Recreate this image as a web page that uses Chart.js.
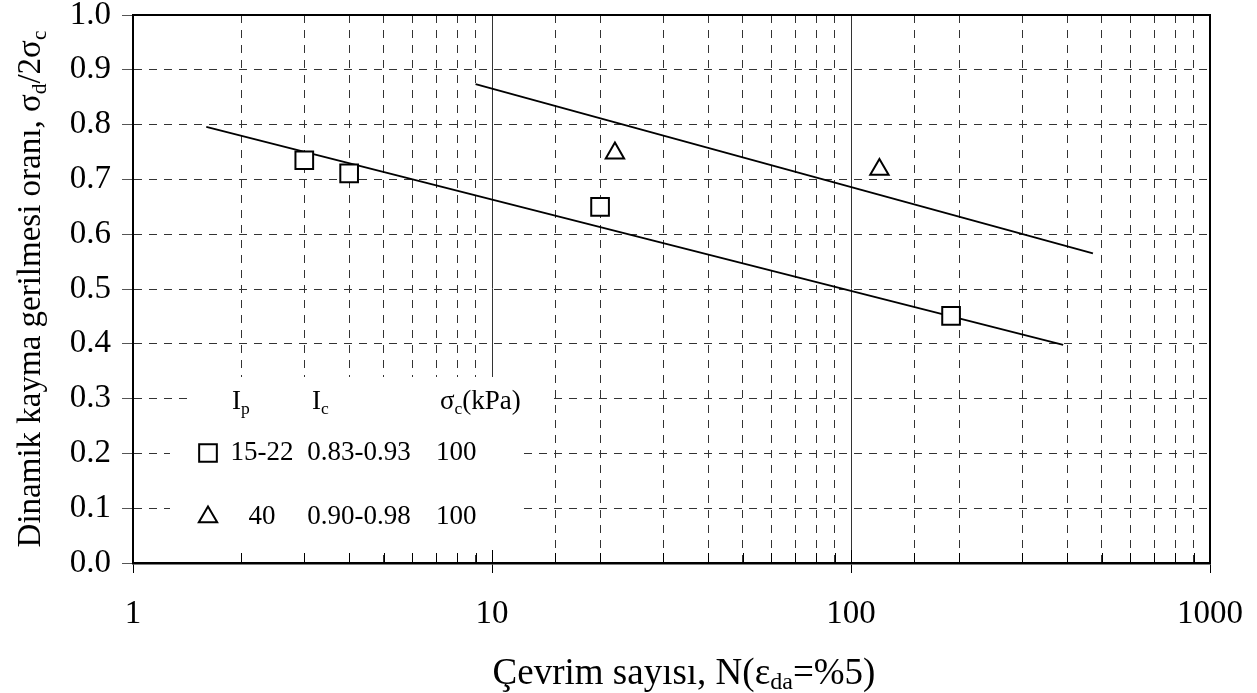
<!DOCTYPE html>
<html>
<head>
<meta charset="utf-8">
<script src="https://cdn.jsdelivr.net/npm/chart.js@4/dist/chart.umd.min.js"></script>
<style>
  html, body { margin: 0; padding: 0; background: #fff; }
  #chart { display: block; }
</style>
</head>
<body>
<canvas id="chart" width="1257" height="693"></canvas>
<script>
// Data
const squareN = [3, 4, 20, 190];
const squareRatio = [0.735, 0.711, 0.65, 0.451];

const triangleN = [22, 120];
const triangleRatio = [0.748, 0.718];

// fitted trend lines (end points)
const lowerFitN = [1.6, 390];
const lowerFitRatio = [0.796, 0.398];
const upperFitN = [9, 472];
const upperFitRatio = [0.874, 0.565];

const xTickLabels = [1, 10, 100, 1000];

// legend table
const legendIp = ["15-22", "40"];
const legendIc = ["0.83-0.93", "0.90-0.98"];
const legendSigma = ["100", "100"];

const SERIF = '"Liberation Serif", "Times New Roman", serif';

function toPoints(xs, ys) {
  return xs.map((x, i) => ({ x: x, y: ys[i] }));
}

// draw text with subscripts; parts = [[text, isSub], ...]
function drawRich(ctx, parts, x, y, size, align, subDrop) {
  const subSize = size * 0.65;
  const drop = subDrop === undefined ? 0.18 : subDrop;
  const widths = parts.map(([t, sub]) => {
    ctx.font = `${sub ? subSize : size}px ${SERIF}`;
    return ctx.measureText(t).width;
  });
  const total = widths.reduce((a, b) => a + b, 0);
  let cx = x;
  if (align === "center") cx = x - total / 2;
  ctx.textAlign = "left";
  ctx.textBaseline = "alphabetic";
  parts.forEach(([t, sub], i) => {
    ctx.font = `${sub ? subSize : size}px ${SERIF}`;
    ctx.fillText(t, cx, sub ? y + size * drop : y);
    cx += widths[i];
  });
}

const isMajor = (v) => xTickLabels.includes(v);

const decorPlugin = {
  id: "decor",
  beforeDatasetsDraw(chart) {
    const ctx = chart.ctx;
    const area = chart.chartArea;
    const xs = chart.scales.x;

    ctx.save();
    // legend background boxes
    ctx.fillStyle = "#fff";
    ctx.fillRect(188, 377, 359, 48);
    ctx.fillRect(170, 425, 353, 128);

    // inside tick marks on x axis
    ctx.strokeStyle = "#000";
    ctx.lineWidth = 1;
    xs.ticks.forEach((t) => {
      const px = Math.round(xs.getPixelForValue(t.value)) + 0.5;
      ctx.beginPath();
      ctx.moveTo(px, area.bottom);
      ctx.lineTo(px, area.bottom - (isMajor(t.value) ? 13 : 10));
      ctx.stroke();
    });

    // legend content
    ctx.fillStyle = "#000";
    drawRich(ctx, [["I"], ["p", true]], 232, 409, 27);
    drawRich(ctx, [["I"], ["c", true]], 312, 409, 27);
    drawRich(ctx, [["σ"], ["c", true], ["(kPa)"]], 440, 409, 27);

    const rowBase = [460, 524];
    const markers = ["rect", "triangle"];
    const radii = [12.5, 10.6];
    const markerY = [453, 517];
    rowBase.forEach((by, i) => {
      ctx.strokeStyle = "#000";
      ctx.fillStyle = "#fff";
      ctx.lineWidth = 2;
      Chart.helpers.drawPoint(ctx, { pointStyle: markers[i], radius: radii[i], rotation: 0, borderWidth: 2 }, 208, markerY[i]);
      ctx.fillStyle = "#000";
      drawRich(ctx, [[legendIp[i]]], 262, by, 27, "center");
      drawRich(ctx, [[legendIc[i]]], 359, by, 27, "center");
      drawRich(ctx, [[legendSigma[i]]], 436, by, 27);
    });
    ctx.restore();
  },
  afterDraw(chart) {
    const ctx = chart.ctx;
    const area = chart.chartArea;
    ctx.save();
    // frame: top and right borders
    ctx.strokeStyle = "#000";
    ctx.lineWidth = 2;
    ctx.beginPath();
    ctx.moveTo(area.left, area.top);
    ctx.lineTo(area.right, area.top);
    ctx.lineTo(area.right, area.bottom);
    ctx.stroke();

    ctx.fillStyle = "#000";
    // x title
    drawRich(ctx, [["Çevrim sayısı, N(ε"], ["da", true], ["=%5)"]], 684, 684, 37, "center", 0.14);
    // y title
    ctx.translate(40, (area.top + area.bottom) / 2);
    ctx.rotate(-Math.PI / 2);
    drawRich(ctx, [["Dinamik kayma gerilmesi oranı, σ"], ["d", true], ["/2σ"], ["c", true]], 0, 0, 33, "center");
    ctx.restore();
  },
};

const ctx = document.getElementById("chart").getContext("2d");
new Chart(ctx, {
  type: "scatter",
  data: {
    datasets: [
      {
        label: "15-22",
        data: toPoints(squareN, squareRatio),
        pointStyle: "rect",
        pointRadius: 12.5,
        pointHoverRadius: 12.5,
        pointBorderWidth: 2,
        borderColor: "#000",
        backgroundColor: "#fff",
        order: 1,
      },
      {
        label: "40",
        data: toPoints(triangleN, triangleRatio),
        pointStyle: "triangle",
        pointRadius: 10.6,
        pointHoverRadius: 10.6,
        pointBorderWidth: 2,
        borderColor: "#000",
        backgroundColor: "#fff",
        order: 1,
      },
      {
        label: "lower fit",
        data: toPoints(lowerFitN, lowerFitRatio),
        showLine: true,
        pointRadius: 0,
        borderColor: "#000",
        borderWidth: 1.8,
        order: 2,
      },
      {
        label: "upper fit",
        data: toPoints(upperFitN, upperFitRatio),
        showLine: true,
        pointRadius: 0,
        borderColor: "#000",
        borderWidth: 1.8,
        order: 2,
      },
    ],
  },
  options: {
    responsive: false,
    animation: false,
    devicePixelRatio: 1,
    layout: { padding: { top: 15, right: 47, left: 0, bottom: 0 } },
    plugins: {
      legend: { display: false },
      tooltip: { enabled: false },
    },
    scales: {
      x: {
        type: "logarithmic",
        min: 1,
        max: 1000,
        afterFit: (scale) => { scale.height = 130; },
        grid: {
          color: "#333",
          lineWidth: 1,
          tickLength: 10,
          tickColor: (c) => (c.tick && isMajor(c.tick.value) ? "#000" : "rgba(0,0,0,0)"),
        },
        border: {
          color: "#000",
          width: 2.5,
          dash: (c) => (c.tick && isMajor(c.tick.value) ? [] : [8, 7]),
        },
        ticks: {
          autoSkip: false,
          maxRotation: 0,
          padding: 0,
          color: "#000",
          font: { family: SERIF, size: 33, lineHeight: 2.5 },
          callback: (v) => (isMajor(v) ? String(v) : ""),
        },
      },
      y: {
        min: 0,
        max: 1,
        afterFit: (scale) => { scale.width = 133; },
        grid: {
          color: "#333",
          lineWidth: 1,
          tickLength: 11,
          tickColor: "#555",
        },
        border: {
          color: "#000",
          width: 2,
          dash: (c) => (c.tick && (c.tick.value === 0 || Math.abs(c.tick.value - 1) < 1e-9) ? [] : [8, 7]),
        },
        ticks: {
          stepSize: 0.1,
          padding: 11,
          color: "#000",
          font: { family: SERIF, size: 33, lineHeight: 0.2 },
          callback: (v) => Number(v).toFixed(1),
        },
      },
    },
  },
  plugins: [decorPlugin],
});
</script>
</body>
</html>
